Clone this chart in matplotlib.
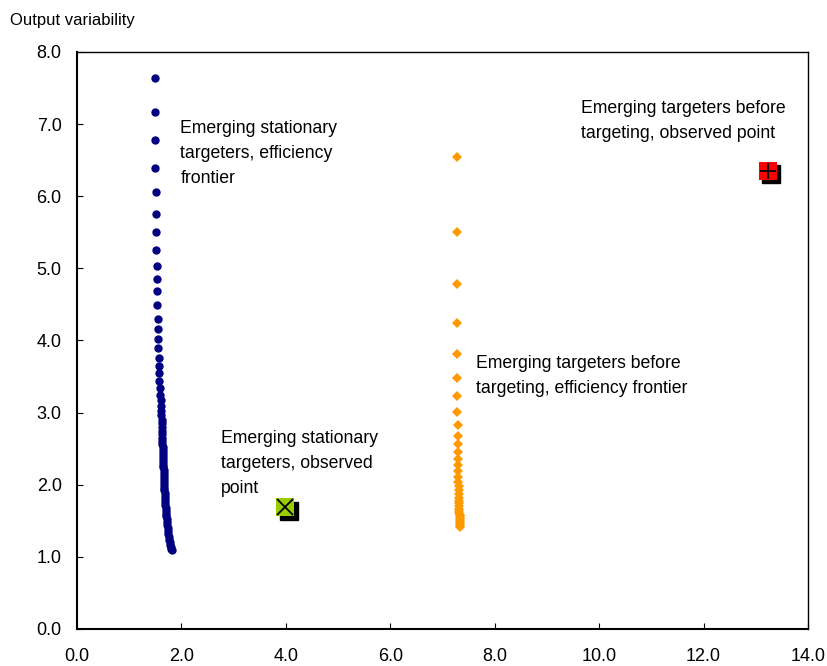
import matplotlib
matplotlib.use('Agg')
import matplotlib.pyplot as plt
from matplotlib.transforms import ScaledTranslation

plt.rcParams['font.family'] = ['Liberation Sans', 'DejaVu Sans']

# Emerging stationary targeters, efficiency frontier
stat_x = [1.49, 1.49, 1.50, 1.50, 1.51, 1.51, 1.52, 1.52, 1.53, 1.53, 1.54, 1.54,
          1.55, 1.55, 1.56, 1.56, 1.57, 1.57, 1.58, 1.58, 1.59, 1.59, 1.60, 1.60,
          1.61, 1.61, 1.62, 1.62, 1.62, 1.62, 1.63, 1.63, 1.63, 1.63, 1.64, 1.64,
          1.64, 1.64, 1.65, 1.65, 1.65, 1.65, 1.66, 1.66, 1.66, 1.66, 1.67, 1.67,
          1.67, 1.67, 1.68, 1.68, 1.68, 1.69, 1.69, 1.70, 1.70, 1.71, 1.71, 1.72,
          1.73, 1.73, 1.74, 1.74, 1.75, 1.76, 1.77, 1.78, 1.79, 1.80, 1.81, 1.82]
stat_y = [7.64, 7.17, 6.78, 6.39, 6.06, 5.76, 5.50, 5.25, 5.03, 4.85, 4.68, 4.49,
          4.30, 4.16, 4.02, 3.89, 3.75, 3.65, 3.55, 3.44, 3.34, 3.25, 3.18, 3.09,
          3.02, 2.96, 2.90, 2.85, 2.80, 2.75, 2.70, 2.65, 2.60, 2.56, 2.52, 2.48,
          2.44, 2.40, 2.36, 2.32, 2.28, 2.24, 2.20, 2.16, 2.12, 2.08, 2.04, 2.00,
          1.96, 1.92, 1.88, 1.84, 1.80, 1.76, 1.72, 1.68, 1.64, 1.60, 1.56, 1.52,
          1.48, 1.44, 1.40, 1.36, 1.32, 1.28, 1.24, 1.20, 1.16, 1.13, 1.11, 1.10]

# Emerging targeters before targeting, efficiency frontier
tgt_x = [7.27, 7.27, 7.27, 7.27, 7.28, 7.28, 7.28, 7.28, 7.29, 7.29, 7.29, 7.29,
         7.30, 7.30, 7.30, 7.30, 7.30, 7.31, 7.31, 7.31, 7.31, 7.31, 7.32, 7.32,
         7.32, 7.32, 7.32, 7.33, 7.33, 7.33, 7.33, 7.34, 7.34, 7.34, 7.34, 7.34]
tgt_y = [6.54, 5.51, 4.78, 4.24, 3.81, 3.48, 3.23, 3.01, 2.83, 2.68, 2.56, 2.45,
         2.36, 2.27, 2.19, 2.11, 2.04, 1.98, 1.92, 1.87, 1.82, 1.78, 1.74, 1.70,
         1.67, 1.64, 1.61, 1.58, 1.56, 1.54, 1.52, 1.50, 1.48, 1.46, 1.44, 1.42]

# observed points
obs_stat = (3.99, 1.69)
obs_tgt = (13.23, 6.35)

xticks = [0, 2, 4, 6, 8, 10, 12, 14]
yticks = [0, 1, 2, 3, 4, 5, 6, 7, 8]

fig = plt.figure(figsize=(8.27, 6.66), dpi=100)
ax = fig.add_axes([0.0931, 0.0556, 0.8839, 0.8664])

ax.plot(stat_x, stat_y, 'o', color='#000080', markersize=5, linestyle='none')
ax.plot(tgt_x, tgt_y, 'D', color='#FF9900', markersize=4.6, markeredgewidth=0,
        linestyle='none')

# observed points with drop shadow
def shadow_square(x, y, face, sym):
    shift = ScaledTranslation(3.5 / 100, -3.5 / 100, fig.dpi_scale_trans)
    ax.plot([x], [y], 's', color='black', markersize=13.5,
            transform=ax.transData + shift, zorder=4)
    ax.plot([x], [y], 's', color=face, markersize=13.5, markeredgewidth=0, zorder=5)
    ax.plot([x], [y], sym, color='black', markersize=11, markeredgewidth=1.3, zorder=6)

shadow_square(obs_stat[0], obs_stat[1], '#99CC00', 'x')
shadow_square(obs_tgt[0], obs_tgt[1], '#FF0000', '+')

ax.set_xlim(0, 14)
ax.set_ylim(0, 8)
ax.set_xticks(xticks)
ax.set_yticks(yticks)
ax.set_xticklabels(['%.1f' % v for v in xticks])
ax.set_yticklabels(['%.1f' % v for v in yticks])
ax.tick_params(direction='in', length=4, width=0.8, labelsize=13)
ax.tick_params(axis='y', pad=11)
ax.tick_params(axis='x', pad=14)
for sp in ax.spines.values():
    sp.set_linewidth(1.0)
ax.spines['left'].set_linewidth(1.5)
ax.spines['bottom'].set_linewidth(1.5)

fs = 12.7
ls = 1.62
ax.text(1.98, 7.06, 'Emerging stationary\ntargeters, efficiency\nfrontier',
        fontsize=fs, va='top', ha='left', linespacing=ls)
ax.text(9.65, 7.33, 'Emerging targeters before\ntargeting, observed point',
        fontsize=fs, va='top', ha='left', linespacing=ls)
ax.text(7.65, 3.80, 'Emerging targeters before\ntargeting, efficiency frontier',
        fontsize=fs, va='top', ha='left', linespacing=ls)
ax.text(2.75, 2.76, 'Emerging stationary\ntargeters, observed\npoint',
        fontsize=fs, va='top', ha='left', linespacing=ls)

fig.text(10 / 827, 1 - 20 / 666, 'Output variability', fontsize=12, va='center',
         ha='left')

fig.savefig('out.png', dpi=100)
